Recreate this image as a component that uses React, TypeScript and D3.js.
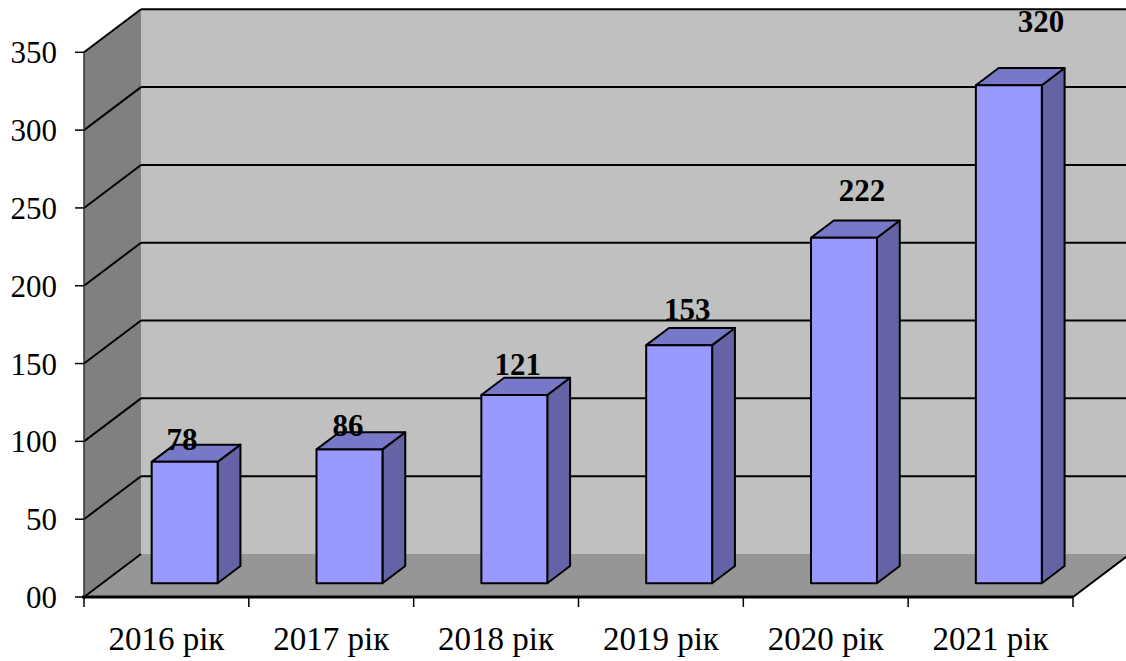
import React from "react";
import * as d3 from "d3";

const categories = ["2016 рік", "2017 рік", "2018 рік", "2019 рік", "2020 рік", "2021 рік"];
const values = [78, 86, 121, 153, 222, 320];
const yTicks = [0, 50, 100, 150, 200, 250, 300, 350];
const yTickLabels = ["00", "50", "100", "150", "200", "250", "300", "350"];

const W = 1126;
const H = 661;
const X0 = 84;
const X1 = 1073;
const DX = 57;
const DY = 43;
const Z0 = 0.32;
const Z1 = 0.72;
const FONT = "'Liberation Serif', 'Times New Roman', serif";

export default function App() {
  const y = d3.scaleLinear().domain([0, 350]).range([597, 52.3]);
  const x = d3
    .scaleBand<string>()
    .domain(categories)
    .range([X0, X1])
    .paddingInner(0.6)
    .paddingOuter(0.3);
  const xTick = d3.scaleLinear().domain([0, categories.length]).range([X0, X1]);

  const P = (px: number, v: number, z: number): [number, number] => [px + DX * z, y(v) - DY * z];
  const pts = (arr: [number, number][]) => arr.map((p) => p.join(",")).join(" ");

  const ymax = 350;
  const backWall = pts([P(X0, 0, 1), P(X0, ymax, 1), P(X1 + 10, ymax, 1), P(X1 + 10, 0, 1)]);
  const leftWall = pts([P(X0, 0, 0), P(X0, ymax, 0), P(X0, ymax, 1), P(X0, 0, 1)]);
  const floor = pts([P(X0, 0, 0), P(X0, 0, 1), P(X1, 0, 1), P(X1, 0, 0)]);

  const stroke = "#000";

  return (
    <svg
      width={W}
      height={H}
      style={{ position: "absolute", left: 0, top: 0, background: "#fff" }}
      fontFamily={FONT}
    >
      <polygon points={backWall} fill="#c0c0c0" />
      <polygon points={leftWall} fill="#808080" />
      <polygon points={floor} fill="#969696" />

      {/* gridlines */}
      {yTicks.map((t) => {
        const a = P(X0, t, 0);
        const b = P(X0, t, 1);
        const c = P(X1 + 10, t, 1);
        return (
          <g key={"g" + t}>
            <line x1={a[0]} y1={a[1]} x2={b[0]} y2={b[1]} stroke={stroke} strokeWidth={2} />
            {t > 0 && <line x1={b[0]} y1={b[1]} x2={c[0]} y2={c[1]} stroke={stroke} strokeWidth={2} />}
          </g>
        );
      })}
      {/* floor right edge */}
      {(() => {
        const a = P(X1, 0, 0);
        const b = P(X1, 0, 1);
        return <line x1={a[0]} y1={a[1]} x2={b[0]} y2={b[1]} stroke={stroke} strokeWidth={2} />;
      })()}

      {/* bars */}
      {categories.map((c, i) => {
        const v = values[i];
        const xl = x(c)!;
        const xr = xl + x.bandwidth();
        const front = pts([P(xl, 0, Z0), P(xl, v, Z0), P(xr, v, Z0), P(xr, 0, Z0)]);
        const top = pts([P(xl, v, Z0), P(xl, v, Z1), P(xr, v, Z1), P(xr, v, Z0)]);
        const side = pts([P(xr, 0, Z0), P(xr, v, Z0), P(xr, v, Z1), P(xr, 0, Z1)]);
        return (
          <g key={c} stroke={stroke} strokeWidth={2} strokeLinejoin="round">
            <polygon points={side} fill="#6363a5" />
            <polygon points={top} fill="#7878c8" />
            <polygon points={front} fill="#9999ff" />
          </g>
        );
      })}

      {/* y axis */}
      <line x1={X0} y1={y(350)} x2={X0} y2={y(0)} stroke="#333" strokeWidth={1.5} />
      {yTicks.map((t, i) => (
        <g key={"t" + t}>
          <line x1={X0 - 9} y1={y(t)} x2={X0} y2={y(t)} stroke="#000" strokeWidth={1.5} />
          <text x={57} y={y(t) + 11} textAnchor="end" fontSize={31} fill="#000">
            {yTickLabels[i]}
          </text>
        </g>
      ))}

      {/* x axis */}
      <line x1={X0 - 2} y1={y(0)} x2={X1} y2={y(0)} stroke="#000" strokeWidth={3} />
      {d3.range(categories.length + 1).map((k) => (
        <line key={"xt" + k} x1={xTick(k)} y1={y(0)} x2={xTick(k)} y2={y(0) + 10} stroke="#000" strokeWidth={1.5} />
      ))}
      {categories.map((c, i) => (
        <text
          key={"xl" + c}
          x={(xTick(i) + xTick(i + 1)) / 2}
          y={650}
          textAnchor="middle"
          fontSize={33}
          fill="#000"
        >
          {c}
        </text>
      ))}

      {/* value labels */}
      {categories.map((c, i) => {
        const v = values[i];
        const cx = x(c)! + x.bandwidth() / 2;
        const [px, py] = P(cx, v, Z0);
        const lx = px - 13.9 + 0.1437 * v;
        const ly = py + 1 - 0.171 * v;
        return (
          <text key={"vl" + c} x={lx} y={ly} textAnchor="middle" fontSize={31} fontWeight="bold" fill="#000">
            {v}
          </text>
        );
      })}
    </svg>
  );
}
